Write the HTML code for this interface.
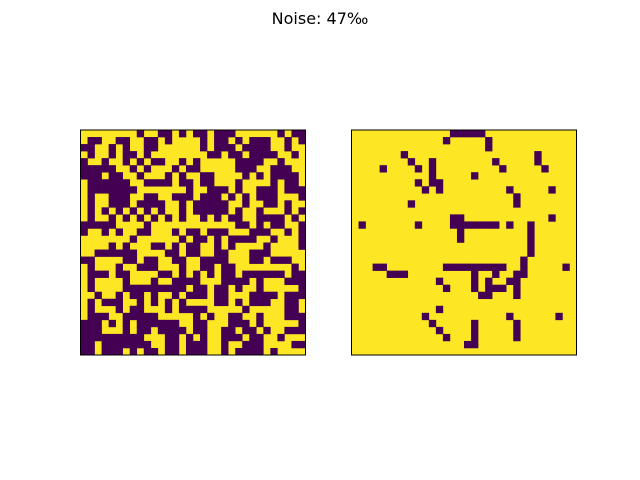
<!DOCTYPE html>
<html><head><meta charset="utf-8"><style>
html,body{margin:0;padding:0;background:#fff;width:640px;height:480px;overflow:hidden}
</style></head><body>
<svg id="fig" width="640" height="480" xmlns="http://www.w3.org/2000/svg">
<text x="320" y="24" text-anchor="middle" font-family="DejaVu Sans, Liberation Sans, sans-serif" font-size="16" fill="#000">Noise: 47‰</text>
<g id="left"></g>
<g id="right"></g>
</svg>
<script>
// 1 = dark (purple), 0 = bright (yellow)
const noisyRows = [
"YYYYYYYYDYYDDYDYDDYDDDYYYYYYDYDD",
"YDDYYDDYYDDYDYYYYDYDDYDYDDDYYDYD",
"DDYYDYDYYDDYYYYYYDYDDDYDDDDYYDYY",
"YDYYDYDDYDYYYYYYYYDDYDDYDDDDYYDY",
"DYYDYYDYDYDDYYDYDYYYYYDDDDYYDYYY",
"DDDDDYYDYDYYYDYDDYYYYYDDDYYDDDYY",
"DDDYDDYYDYYYDYDYYDDYYYYDYDYDDDDY",
"YDDDDDDYYDDDDYDDYDDYYYDYYYYDYDDY",
"YDDDDDDDYYYYYYYDYYDDDYDYYDDDYDDD",
"YDYYDDDYYDDYYDDDYDDDYDYDYDDDYYYD",
"YDYYDDDYDDDDYYDYDDDDDYYDYYDDYDYY",
"YDYDYDYDYDYDYYDYDDDDDYDYYDYYYDYD",
"YDYYDYDYDYDYDYDYYDYDYDDYYDDDDYDY",
"DDDDDYYYYDYYYYYYYYYYYYDDYDYDDYYD",
"DYYDYDYYDDYYYDYDDYDDDYYYDDDYYDYD",
"YYYYYYYDYYYYYYDYDDYDYDDDDYYDYYYD",
"YYYYDYDYYYDDYDYDDYYDYDYYYYDYYYYD",
"YYDDDDDDYYYYDDYDDYYDDYYYDDDYYYYY",
"DDYYYYDDYDDYYDDYYDDDDYYYDDYDDDYY",
"YDYYYDYYDDDYYYDYYDDYDDYYYYYYYYDY",
"YDDDYDDYYYYDDYDYDYDYDDYDDDDDDYDD",
"YDYYYYDYYYDYYDDDDYYYDDDDYDYYYDDD",
"YDYYYYDDDDDDDDDYDDYDDYDYYDYYYYYD",
"YYDYYDYDDYDYYDYDDDYDDYYYDDDDYDDD",
"YDYDDDYYDYDYDYDYYYYDDYDYDDDYYDDY",
"YDYYYDYDDYYYDYDDDDYYYYYDYYYYYDDY",
"YDDDYYDDDDDYYYYYDYDYYDDYYDYYYDDD",
"DDDYDYDYDDDDDDYYDDYYYDDDYDYYYYYD",
"DDDYYYDYDDYDDDDYDDYYDDYDDYDYYDDD",
"DDDDDDDDDYYYDDYDYDYYDDDYDDYYDYYY",
"DDYDDDDDDDYYDDYDDDYYDYYDDDYYYYDD",
"DDYDDDYDYDDYDDYDDDYYDYDDDDYDYYYY"
];
// denoised image: dark cells as [row, col]
const cleanRows = [0,1,1,2,3,3,4,4,4,4,5,5,5,5,5,6,6,7,7,7,8,8,8,8,9,10,10,12,12,12,13,13,13,13,13,13,13,13,13,13,13,14,14,15,15,16,17,18,19,19,19,19,19,19,19,19,19,19,19,19,19,20,20,20,20,20,20,20,21,21,21,21,21,22,22,22,22,22,22,23,23,23,25,26,26,26,27,27,27,28,28,28,29,29,29,30,30];
const cleanCols = [14,13,19,19,7,26,8,11,20,26,4,9,11,21,27,11,17,9,11,12,10,12,22,28,23,8,23,14,15,28,1,9,14,15,16,17,18,19,20,22,25,15,25,15,25,25,25,24,3,4,13,14,15,16,17,18,19,20,21,24,30,5,6,7,17,20,23,24,12,17,19,22,23,13,17,19,20,21,23,18,19,23,12,10,22,29,11,17,23,12,17,23,13,17,23,16,17];
// extend row 0 of clean image
cleanRows.push(0,0,0,0); cleanCols.push(15,16,17,18);

const N = 32, SIZE = 225, Y0 = 130;
const cell = SIZE / N;
const ns = "http://www.w3.org/2000/svg";
function xScale(x0, c){ return x0 + c * cell; }
function yScale(r){ return Y0 + r * cell; }
function panel(g, x0, name){
  const bg = document.createElementNS(ns,'rect');
  bg.setAttribute('x',x0);bg.setAttribute('y',Y0);bg.setAttribute('width',SIZE);bg.setAttribute('height',SIZE);bg.setAttribute('fill','#fde725');
  
  
  g.appendChild(bg);
}
function cellRect(g, x0, r, c){
  const el = document.createElementNS(ns,'rect');
  el.setAttribute('x', xScale(x0,c)); el.setAttribute('y', yScale(r));
  el.setAttribute('width', cell+0.3); el.setAttribute('height', cell+0.3);
  el.setAttribute('fill','#440154');
  
  
  g.appendChild(el);
}
function frame(g, x0, name){
  const f = document.createElementNS(ns,'rect');
  f.setAttribute('x',x0);f.setAttribute('y',Y0);f.setAttribute('width',SIZE);f.setAttribute('height',SIZE);
  f.setAttribute('fill','none');f.setAttribute('stroke','#000');f.setAttribute('stroke-width','1');
  
  
  g.appendChild(f);
}
const L = document.getElementById('left'), R = document.getElementById('right');
panel(L, 80.5, 'noisy');
noisyRows.forEach((row, r) => { for (let c = 0; c < N; c++) if (row[c] === 'D') cellRect(L, 80.5, r, c); });
frame(L, 80.5, 'noisy');
panel(R, 351.5, 'denoised');
cleanRows.forEach((r, i) => cellRect(R, 351.5, r, cleanCols[i]));
frame(R, 351.5, 'denoised');
</script>
</body></html>
